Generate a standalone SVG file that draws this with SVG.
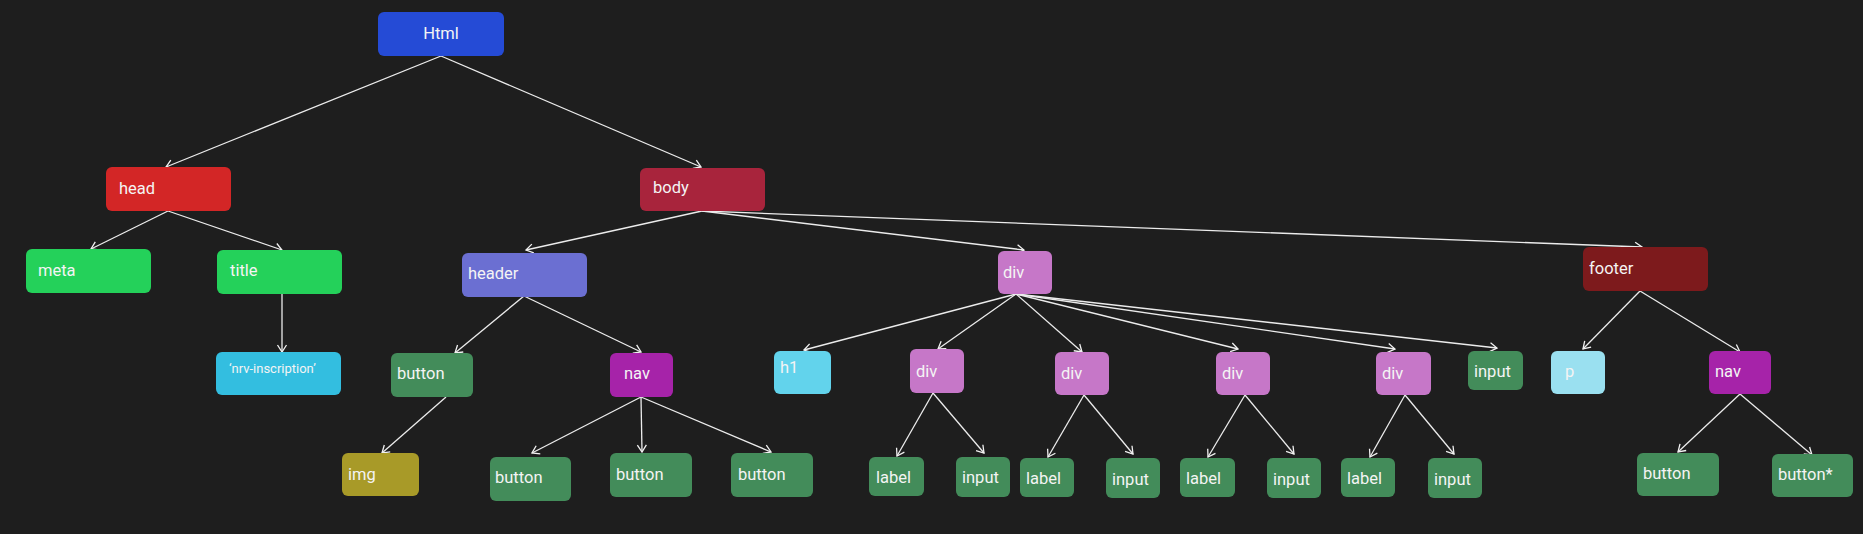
<svg xmlns="http://www.w3.org/2000/svg" width="1863" height="534" viewBox="0 0 1863 534">
<defs>
<marker id="arr" markerUnits="userSpaceOnUse" markerWidth="12" markerHeight="12" viewBox="-9 -6 12 12" refX="0" refY="0" orient="auto">
<path d="M-7,-4.5 L0,0 L-7,4.5" fill="none" stroke="#f2f2f2" stroke-width="1.3"/>
</marker>
<style>
.n{stroke:none}
.t{font-family:Roboto,"Noto Sans",sans-serif;font-size:16.5px;fill:#f4f4f4}
.s{font-size:13px}
.e line{stroke:#ececec;stroke-width:1.3;marker-end:url(#arr)}
.btn{fill:#438c5a}
.div{fill:#c677c8}
.nav{fill:#a623a9}
.grn{fill:#24d15a}
</style>
</defs>
<rect width="1863" height="534" fill="#1e1e1e"/>
<g id="connectors" class="e">
<line x1="441" y1="56" x2="166" y2="167"/>
<line x1="441" y1="56" x2="701" y2="167"/>
<line x1="168" y1="211" x2="91" y2="249"/>
<line x1="168" y1="211" x2="282" y2="250"/>
<line x1="282" y1="294" x2="282" y2="352"/>
<line x1="702" y1="211" x2="526" y2="250"/>
<line x1="702" y1="211" x2="1024" y2="250"/>
<line x1="702" y1="211" x2="1642" y2="247"/>
<line x1="524" y1="296" x2="455" y2="353"/>
<line x1="524" y1="296" x2="641" y2="352"/>
<line x1="446" y1="397" x2="382" y2="453"/>
<line x1="641" y1="397" x2="532" y2="453"/>
<line x1="641" y1="397" x2="642" y2="452"/>
<line x1="641" y1="397" x2="771" y2="452"/>
<line x1="1016" y1="294" x2="804" y2="350"/>
<line x1="1016" y1="294" x2="938" y2="349"/>
<line x1="1016" y1="294" x2="1082" y2="352"/>
<line x1="1016" y1="294" x2="1238" y2="349"/>
<line x1="1016" y1="294" x2="1395" y2="349"/>
<line x1="1016" y1="294" x2="1497" y2="348"/>
<line x1="933" y1="393" x2="897" y2="456"/>
<line x1="933" y1="393" x2="984" y2="453"/>
<line x1="1084" y1="395" x2="1048" y2="457"/>
<line x1="1084" y1="395" x2="1133" y2="454"/>
<line x1="1245" y1="395" x2="1208" y2="457"/>
<line x1="1245" y1="395" x2="1294" y2="454"/>
<line x1="1405" y1="395" x2="1370" y2="457"/>
<line x1="1405" y1="395" x2="1454" y2="454"/>
<line x1="1640" y1="291" x2="1583" y2="349"/>
<line x1="1640" y1="291" x2="1740" y2="352"/>
<line x1="1740" y1="394" x2="1678" y2="452"/>
<line x1="1740" y1="394" x2="1812" y2="455"/>
</g>
<g id="html"><rect x="378" y="12" width="126" height="44" rx="6" fill="#254bd6"/><text class="t" x="441" y="39" text-anchor="middle">Html</text></g>
<g id="head"><rect x="106" y="167" width="125" height="44" rx="6" fill="#d32626"/><text class="t" x="119" y="194">head</text></g>
<g id="body"><rect x="640" y="168" width="125" height="43" rx="6" fill="#a8243c"/><text class="t" x="653" y="193">body</text></g>
<g id="meta"><rect x="26" y="249" width="125" height="44" rx="6" class="grn"/><text class="t" x="38" y="276">meta</text></g>
<g id="title"><rect x="217" y="250" width="125" height="44" rx="6" class="grn"/><text class="t" x="230" y="276">title</text></g>
<g id="nrv"><rect x="216" y="352" width="125" height="43" rx="6" fill="#33bee0"/><text class="t s" x="229" y="373">‘nrv-inscription’</text></g>
<g id="header"><rect x="462" y="253" width="125" height="44" rx="6" fill="#6b6fd2"/><text class="t" x="468" y="279">header</text></g>
<g id="header-button"><rect x="391" y="353" width="82" height="44" rx="6" class="btn"/><text class="t" x="397" y="379">button</text></g>
<g id="header-nav"><rect x="610" y="353" width="63" height="44" rx="6" class="nav"/><text class="t" x="624" y="379">nav</text></g>
<g id="img"><rect x="342" y="453" width="77" height="43" rx="6" fill="#a89a28"/><text class="t" x="348" y="480">img</text></g>
<g id="nav-button-1"><rect x="490" y="457" width="81" height="44" rx="6" class="btn"/><text class="t" x="495" y="483">button</text></g>
<g id="nav-button-2"><rect x="610" y="453" width="82" height="44" rx="6" class="btn"/><text class="t" x="616" y="480">button</text></g>
<g id="nav-button-3"><rect x="731" y="453" width="82" height="44" rx="6" class="btn"/><text class="t" x="738" y="480">button</text></g>
<g id="div"><rect x="998" y="251" width="54" height="43" rx="6" class="div"/><text class="t" x="1003" y="278">div</text></g>
<g id="h1"><rect x="774" y="351" width="57" height="43" rx="6" fill="#62d3ec"/><text class="t" x="780" y="373">h1</text></g>
<g id="div-1"><rect x="910" y="349" width="54" height="44" rx="6" class="div"/><text class="t" x="916" y="377">div</text></g>
<g id="div-2"><rect x="1055" y="352" width="54" height="43" rx="6" class="div"/><text class="t" x="1061" y="379">div</text></g>
<g id="div-3"><rect x="1216" y="352" width="54" height="43" rx="6" class="div"/><text class="t" x="1222" y="379">div</text></g>
<g id="div-4"><rect x="1376" y="352" width="55" height="43" rx="6" class="div"/><text class="t" x="1382" y="379">div</text></g>
<g id="input-top"><rect x="1468" y="351" width="55" height="39" rx="6" class="btn"/><text class="t" x="1474" y="377">input</text></g>
<g id="label-1"><rect x="869" y="457" width="55" height="39" rx="6" class="btn"/><text class="t" x="876" y="483">label</text></g>
<g id="input-1"><rect x="956" y="457" width="54" height="40" rx="6" class="btn"/><text class="t" x="962" y="483">input</text></g>
<g id="label-2"><rect x="1020" y="458" width="54" height="39" rx="6" class="btn"/><text class="t" x="1026" y="484">label</text></g>
<g id="input-2"><rect x="1106" y="458" width="54" height="40" rx="6" class="btn"/><text class="t" x="1112" y="485">input</text></g>
<g id="label-3"><rect x="1180" y="458" width="55" height="39" rx="6" class="btn"/><text class="t" x="1186" y="484">label</text></g>
<g id="input-3"><rect x="1267" y="458" width="54" height="40" rx="6" class="btn"/><text class="t" x="1273" y="485">input</text></g>
<g id="label-4"><rect x="1341" y="458" width="54" height="39" rx="6" class="btn"/><text class="t" x="1347" y="484">label</text></g>
<g id="input-4"><rect x="1428" y="458" width="54" height="40" rx="6" class="btn"/><text class="t" x="1434" y="485">input</text></g>
<g id="footer"><rect x="1583" y="247" width="125" height="44" rx="6" fill="#7d1a1c"/><text class="t" x="1589" y="274">footer</text></g>
<g id="p"><rect x="1551" y="351" width="54" height="43" rx="6" fill="#9ae0f0"/><text class="t" x="1565" y="377">p</text></g>
<g id="footer-nav"><rect x="1709" y="351" width="62" height="43" rx="6" class="nav"/><text class="t" x="1715" y="377">nav</text></g>
<g id="footer-button"><rect x="1637" y="453" width="82" height="43" rx="6" class="btn"/><text class="t" x="1643" y="479">button</text></g>
<g id="footer-button-star"><rect x="1772" y="454" width="81" height="43" rx="6" class="btn"/><text class="t" x="1778" y="480">button*</text></g>
</svg>
